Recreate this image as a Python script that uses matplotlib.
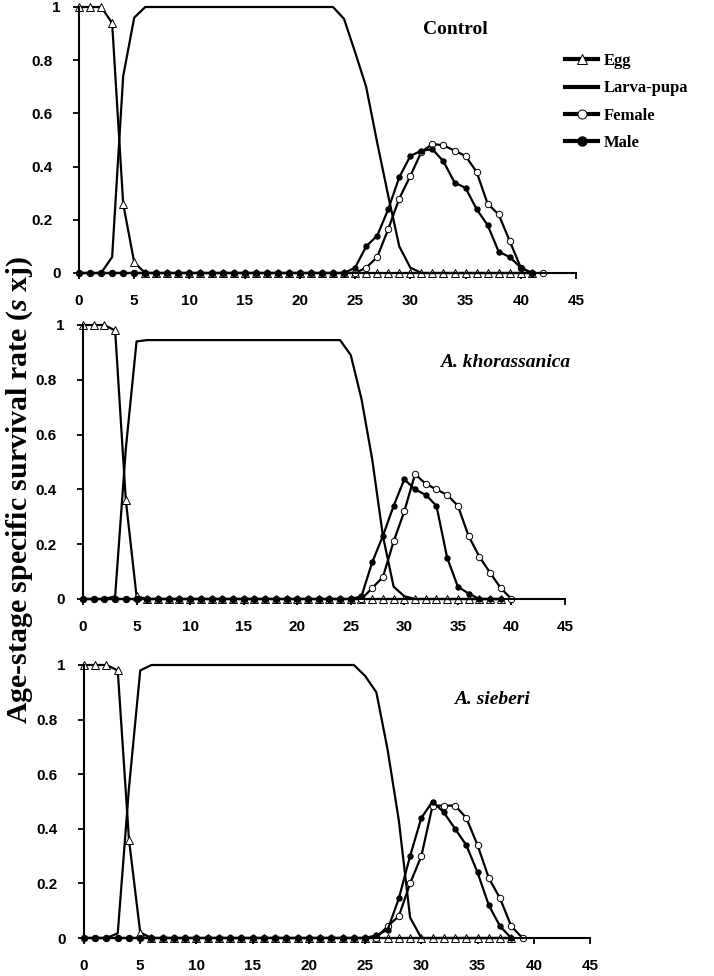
"""Age-stage specific survival rate of three treatments (three stacked panels)."""

import matplotlib
import matplotlib.pyplot as plt
from matplotlib.transforms import ScaledTranslation

matplotlib.use("Agg")

# Control
egg_c = [1, 1, 1, 0.94, 0.26, 0.04] + [0] * 36
larva_c = ([0, 0, 0, 0.06, 0.74, 0.96] + [1] * 18
           + [0.955, 0.83, 0.70, 0.49, 0.29, 0.10, 0.02] + [0] * 11)
female_c = ([0] * 26 + [0.02, 0.06, 0.165, 0.28, 0.365, 0.455, 0.485, 0.48,
                        0.46, 0.44, 0.38, 0.26, 0.22, 0.12, 0.02, 0, 0])
male_c = ([0] * 25 + [0.02, 0.10, 0.14, 0.24, 0.36, 0.44, 0.46, 0.465, 0.42,
                      0.34, 0.32, 0.24, 0.18, 0.08, 0.06, 0.02, 0])

# A. khorassanica
egg_k = [1, 1, 1, 0.98, 0.36, 0.01] + [0] * 34
larva_k = ([0, 0, 0, 0.01, 0.55, 0.94] + [0.945] * 19
           + [0.89, 0.73, 0.51, 0.23, 0.045, 0.01] + [0] * 9)
female_k = ([0] * 27 + [0.04, 0.08, 0.21, 0.32, 0.456, 0.42, 0.40, 0.38,
                        0.34, 0.23, 0.155, 0.096, 0.04, 0])
male_k = ([0] * 26 + [0.01, 0.134, 0.23, 0.34, 0.437, 0.40, 0.38, 0.34,
                      0.15, 0.045, 0.02, 0, 0, 0])

# A. sieberi
egg_s = [1, 1, 1, 0.98, 0.36, 0.02] + [0] * 33
larva_s = ([0, 0, 0, 0.017, 0.55, 0.98] + [1] * 19
           + [0.96, 0.90, 0.69, 0.43, 0.075] + [0] * 9)
female_s = ([0] * 27 + [0.043, 0.08, 0.20, 0.30, 0.485, 0.485, 0.485, 0.44,
                        0.34, 0.22, 0.145, 0.043, 0])
male_s = ([0] * 26 + [0.01, 0.03, 0.145, 0.30, 0.44, 0.50, 0.46, 0.40,
                      0.34, 0.24, 0.12, 0.043, 0])

panels = [
    ("Control", "normal", egg_c, larva_c, female_c, male_c),
    ("A. khorassanica", "italic", egg_k, larva_k, female_k, male_k),
    ("A. sieberi", "italic", egg_s, larva_s, female_s, male_s),
]

x_ticks = list(range(0, 50, 5))
y_ticks = [0, 0.2, 0.4, 0.6, 0.8, 1]
y_tick_labels = ["0", "0.2", "0.4", "0.6", "0.8", "1"]

SERIF = "Liberation Serif"
SANS = "Liberation Sans"

W, H = 714, 976
# axes boxes in pixels: left, right, top (y=1), bottom (y=0)
boxes = [(79, 576, 7, 273), (83, 565, 325, 599), (84, 590, 665, 938)]
title_pos = [(455, 30), (505, 363), (492, 700)]

plt.rcParams["mathtext.fontset"] = "custom"
plt.rcParams["mathtext.it"] = "Liberation Serif:italic:bold"
plt.rcParams["mathtext.rm"] = "Liberation Serif:bold"

fig = plt.figure(figsize=(W / 100, H / 100), dpi=100)

for (title, style, egg, larva, female, male), (l, r, t, b), (tx, ty) in zip(
        panels, boxes, title_pos):
    ax = fig.add_axes([l / W, 1 - b / H, (r - l) / W, (b - t) / H])
    kw = dict(color="black", lw=1.6, clip_on=False)
    ax.plot(range(len(egg)), egg, marker="^", ms=5.5, mfc="white", mec="black",
            mew=0.7, label="Egg", **kw)
    ax.plot(range(len(larva)), larva, label="Larva-pupa", **kw)
    ax.plot(range(len(female)), female, marker="o", ms=4.6, mfc="white",
            mec="black", mew=0.7, label="Female", **kw)
    ax.plot(range(len(male)), male, marker="o", ms=3.6, mfc="black",
            mec="black", label="Male", **kw)

    ax.set_xlim(0, 45)
    ax.set_ylim(0, 1)
    ax.set_xticks(x_ticks)
    ax.set_yticks(y_ticks)
    ax.set_yticklabels(y_tick_labels)
    for side in ("top", "right"):
        ax.spines[side].set_visible(False)
    for side in ("left", "bottom"):
        ax.spines[side].set_linewidth(1.5)
    ax.tick_params(direction="out", length=4, width=1.3, labelsize=11)
    ax.tick_params(axis="x", pad=11)
    ax.tick_params(axis="y", pad=9)
    for lbl in ax.get_xticklabels() + ax.get_yticklabels():
        lbl.set_fontfamily(SANS)
        lbl.set_fontweight("bold")
    # decimal labels sit a little further left, as in the original
    for lbl in ax.get_yticklabels()[1:-1]:
        lbl.set_transform(lbl.get_transform()
                          + ScaledTranslation(-0.08, 0, fig.dpi_scale_trans))

    fig.text(tx / W, 1 - ty / H, title, family=SERIF, weight="bold",
             style=style, fontsize=14, ha="center", va="center")

    if title == "Control":
        leg = ax.legend(loc="upper left", bbox_to_anchor=(565 / W, 1 - 53 / H),
                        bbox_transform=fig.transFigure, frameon=False,
                        borderaxespad=0, borderpad=0, handlelength=2.0,
                        handletextpad=0.3, labelspacing=0.68,
                        prop=dict(family=SERIF, weight="bold", size=12))
        for line in leg.get_lines():
            line.set_linewidth(3)
            line.set_markersize(6.5)

fig.text(20 / W, 1 - 490 / H, r"Age-stage specific survival rate ($s$ xj)",
         family=SERIF, weight="bold", fontsize=21.5, rotation=90,
         ha="center", va="center")

fig.savefig("out.png", dpi=100)
plt.close(fig)
